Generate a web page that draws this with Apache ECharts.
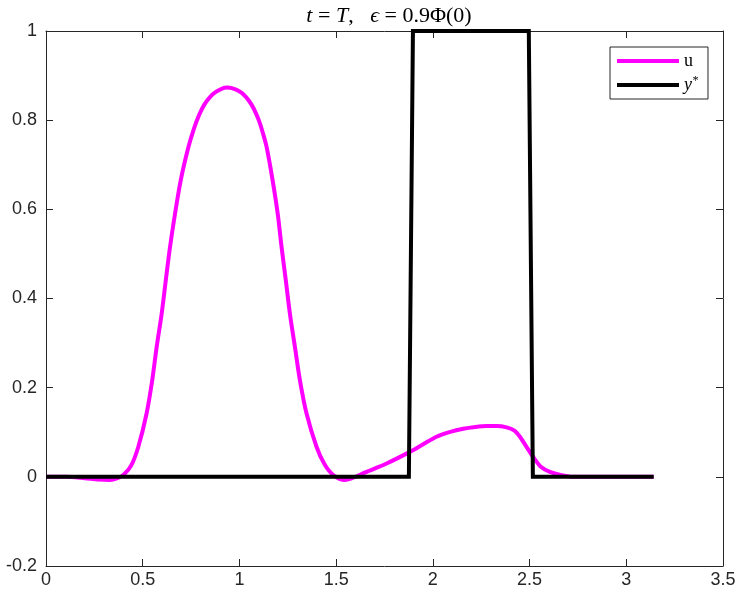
<!DOCTYPE html>
<html>
<head>
<meta charset="utf-8">
<script src="https://cdn.jsdelivr.net/npm/echarts@6/dist/echarts.min.js"></script>
<style>
    html, body { margin: 0; padding: 0; background: #fff; }
    #chart { width: 740px; height: 598px; }
</style>
</head>
<body>
<div id="chart"></div>
<script>
// u(x) at t = T
const uX = [0, 0.1, 0.2, 0.27, 0.33, 0.37, 0.4, 0.44, 0.477, 0.52, 0.549, 0.572, 0.598, 0.619, 0.641, 0.667,
    0.696, 0.736, 0.765, 0.792, 0.82, 0.85, 0.88, 0.91, 0.937, 0.96, 0.99, 1.02, 1.05, 1.075, 1.1, 1.12, 1.141,
    1.172, 1.198, 1.218, 1.24, 1.261, 1.287, 1.313, 1.347, 1.399, 1.44, 1.485, 1.545, 1.6, 1.65, 1.761,
    1.881, 1.95, 2.019, 2.09, 2.157, 2.22, 2.277, 2.33, 2.381, 2.42, 2.45, 2.48, 2.518, 2.56, 2.605, 2.66,
    2.725, 3.1416];
const uY = [0, 0, -0.003, -0.006, -0.007, -0.003, 0.004, 0.025, 0.067, 0.142, 0.216, 0.291, 0.366, 0.44, 0.515, 0.59,
    0.664, 0.739, 0.781, 0.812, 0.836, 0.853, 0.864, 0.871, 0.873, 0.872, 0.867, 0.858, 0.843, 0.825, 0.8, 0.773, 0.739,
    0.664, 0.59, 0.515, 0.44, 0.366, 0.291, 0.216, 0.142, 0.067, 0.028, 0.004, -0.007, 0.0, 0.01, 0.03,
    0.056, 0.073, 0.09, 0.101, 0.108, 0.112, 0.114, 0.114, 0.111, 0.104, 0.09, 0.07, 0.045, 0.022, 0.011, 0.004,
    0, 0];

// target y*
const yStarX = [0, 1.876, 1.897, 2.496, 2.517, 3.1416];
const yStarY = [0, 0, 1, 1, 0, 0];

const xTicks = { min: 0, max: 3.5, interval: 0.5 };
const yTicks = { min: -0.2, max: 1, interval: 0.2 };

const axisColor = "#262626";
const sansFont = "'Liberation Sans', Arial, sans-serif";
const serifFont = "'Liberation Serif', 'DejaVu Serif', serif";

const zip = (xs, ys) => xs.map((x, i) => [x, ys[i]]);

const boxAxis = {
    axisLine: { show: true, onZero: false, lineStyle: { color: axisColor, width: 1 } },
    axisTick: { show: true, inside: true, length: 7, lineStyle: { color: axisColor } },
    splitLine: { show: false },
};

const myChart = echarts.init(document.getElementById("chart"), null, { renderer: "canvas" });

myChart.setOption({
    animation: false,
    backgroundColor: "#fff",
    title: {
        text: "{i|t} {n|=} {i|T},   {i|ϵ} {n|=} {n|0.9Φ(0)}",
        left: 384,
        textAlign: "center",
        top: 0,
        textStyle: {
            fontFamily: serifFont,
            fontSize: 22,
            fontWeight: "normal",
            color: "#000",
            rich: {
                i: { fontFamily: serifFont, fontSize: 22, fontStyle: "italic", color: "#000" },
                n: { fontFamily: serifFont, fontSize: 22, color: "#000" },
            },
        },
    },
    legend: {
        orient: "vertical",
        left: 610,
        top: 47,
        padding: [5, 10, 5, 7],
        itemGap: 5,
        itemWidth: 62,
        itemHeight: 4,
        icon: "rect",
        borderColor: axisColor,
        borderWidth: 1,
        backgroundColor: "#fff",
        data: ["u", "y*"],
        formatter: name => (name === "y*" ? "{i|y}{s|*}" : "{n|u}"),
        textStyle: {
            fontFamily: serifFont,
            fontSize: 18,
            color: "#000",
            rich: {
                n: { fontFamily: serifFont, fontSize: 18, color: "#000" },
                i: { fontFamily: serifFont, fontSize: 18, fontStyle: "italic", color: "#000" },
                s: { fontFamily: serifFont, fontSize: 12, fontStyle: "italic", color: "#000", padding: [0, 0, 8, 0] },
            },
        },
    },
    grid: { left: 46, right: 17, top: 31, bottom: 32, containLabel: false },
    xAxis: [
        {
            type: "value",
            position: "bottom",
            ...xTicks,
            ...boxAxis,
            axisLabel: { color: axisColor, fontFamily: sansFont, fontSize: 18, margin: 5 },
        },
        {
            type: "value",
            position: "top",
            ...xTicks,
            ...boxAxis,
            axisLabel: { show: false },
        },
    ],
    yAxis: [
        {
            type: "value",
            position: "left",
            ...yTicks,
            ...boxAxis,
            axisLabel: { color: axisColor, fontFamily: sansFont, fontSize: 18, margin: 9 },
        },
        {
            type: "value",
            position: "right",
            ...yTicks,
            ...boxAxis,
            axisLabel: { show: false },
        },
    ],
    series: [
        {
            type: "line",
            name: "u",
            data: zip(uX, uY),
            smooth: 0.3,
            showSymbol: false,
            itemStyle: { color: "#ff00ff" },
            lineStyle: { color: "#ff00ff", width: 4, join: "round" },
            z: 2,
        },
        {
            type: "line",
            name: "y*",
            data: zip(yStarX, yStarY),
            showSymbol: false,
            itemStyle: { color: "#000" },
            lineStyle: { color: "#000", width: 4, join: "miter" },
            z: 3,
        },
    ],
});
</script>
</body>
</html>
